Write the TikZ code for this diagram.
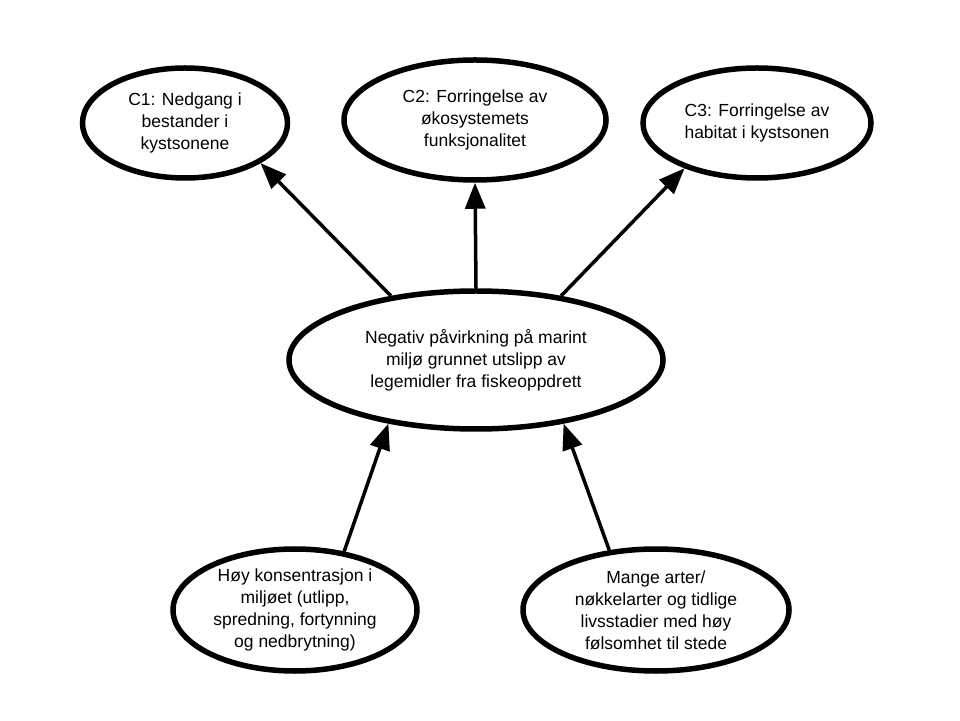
\documentclass[tikz,border=0pt]{standalone}
\usepackage{fontspec}
\setmainfont{Liberation Sans}
\usetikzlibrary{shapes.geometric,arrows.meta}
\tikzset{
  blob/.style={ellipse, draw=black, line width=5.5pt, align=center, inner sep=0pt, font=\fontsize{17.5}{22}\selectfont},
  pil/.style={line width=3.5pt, -{Triangle[length=26pt,width=20pt]}}
}
\begin{document}
\begin{tikzpicture}[x=1pt,y=1pt]
\useasboundingbox (0,0) rectangle (960,720);
\node[blob, minimum width=205pt, minimum height=110pt] (c1) at (185,597) {C1: Nedgang i\\bestander i\\kystsonene};
\node[blob, minimum width=262pt, minimum height=120pt] (c2) at (475,600) {C2: Forringelse av\\økosystemets\\funksjonalitet};
\node[blob, minimum width=228pt, minimum height=110pt] (c3) at (757,597) {C3: Forringelse av\\habitat i kystsonen};
\node[blob, minimum width=374pt, minimum height=138pt] (mid) at (476,360) {Negativ påvirkning på marint\\miljø grunnet utslipp av\\legemidler fra fiskeoppdrett};
\node[blob, minimum width=244pt, minimum height=122pt] (hoy) at (295,110) {Høy konsentrasjon i\\miljøet (utlipp,\\spredning, fortynning\\og nedbrytning)};
\node[blob, minimum width=266pt, minimum height=122pt] (arter) at (656,110) {Mange arter/\\nøkkelarter og tidlige\\livsstadier med høy\\følsomhet til stede};
% virkninger
\draw[pil] (mid.143) -- (c1.-28);
\draw[pil] (mid.90) -- (c2.-90);
\draw[pil] (mid.37) -- (c3.212);
% årsaker
\draw[pil] (hoy.50) -- (mid.216);
\draw[pil] (arter.128) -- (mid.324);
\end{tikzpicture}
\end{document}
